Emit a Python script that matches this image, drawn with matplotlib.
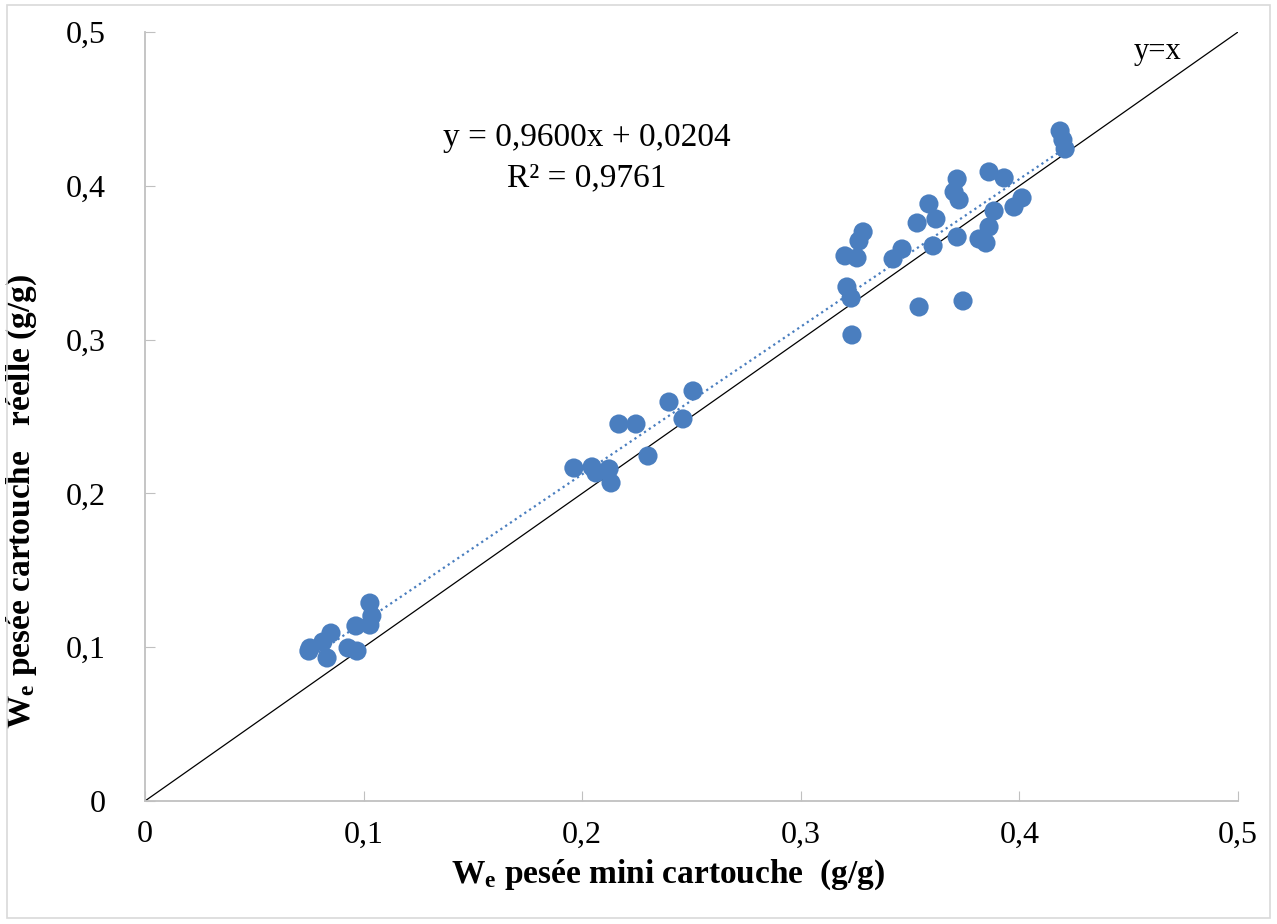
import matplotlib
matplotlib.use("Agg")
import matplotlib.pyplot as plt
import numpy as np
from matplotlib.patches import Rectangle

plt.rcParams['font.family'] = ['Liberation Serif', 'DejaVu Serif']
plt.rcParams['mathtext.fontset'] = 'custom'
plt.rcParams['mathtext.rm'] = 'Liberation Serif'
plt.rcParams['mathtext.bf'] = 'Liberation Serif:bold'

# W_e mini cartouche (x) vs W_e cartouche reelle (y)
mini = [0.1029, 0.1038, 0.1029, 0.0965, 0.0851, 0.0814, 0.0755, 0.0750, 0.0833, 0.0929, 0.0970,
        0.2507, 0.2397, 0.2168, 0.2246, 0.2461, 0.2301, 0.1962, 0.2045, 0.2063, 0.2123, 0.2132,
        0.3285, 0.3266, 0.3202, 0.3257, 0.3422, 0.3463, 0.3532, 0.3586, 0.3618, 0.3605,
        0.3715, 0.3701, 0.3724, 0.3861, 0.3930, 0.4012, 0.3975, 0.3884, 0.3861, 0.3715,
        0.3815, 0.3847, 0.3211, 0.3230, 0.3541, 0.3742, 0.3234, 0.4186, 0.4199, 0.4209]
reelle = [0.1287, 0.1203, 0.1144, 0.1138, 0.1092, 0.1034, 0.0995, 0.0975, 0.0930, 0.0995, 0.0975,
          0.2666, 0.2594, 0.2451, 0.2451, 0.2484, 0.2243, 0.2165, 0.2172, 0.2133, 0.2159, 0.2068,
          0.3700, 0.3641, 0.3544, 0.3531, 0.3524, 0.3589, 0.3758, 0.3882, 0.3784, 0.3609,
          0.4044, 0.3960, 0.3908, 0.4090, 0.4051, 0.3921, 0.3862, 0.3836, 0.3732, 0.3667,
          0.3654, 0.3628, 0.3342, 0.3270, 0.3212, 0.3251, 0.3030, 0.4356, 0.4298, 0.4239]

slope = 0.9600
intercept = 0.0204
eq_text = "y = 0,9600x + 0,0204"
r2_text = "R² = 0,9761"
ticks = [0, 0.1, 0.2, 0.3, 0.4, 0.5]
tick_labels = ["0", "0,1", "0,2", "0,3", "0,4", "0,5"]

fig = plt.figure(figsize=(12.77, 9.24), dpi=100)
ax = fig.add_axes([0.1135, 0.1331, 0.856, 0.8323])

blue = "#4a7ebf"
ax.plot([0, 0.5], [0, 0.5], color="black", lw=0.9, zorder=2)
ax.scatter(mini, reelle, s=190, color=blue, edgecolors="none", zorder=3)

xt = np.array([min(mini), max(mini)])
ax.plot(xt, slope * xt + intercept, color=blue, lw=1.6, ls=(0, (1, 1.6)), zorder=4)

ax.text(0.202, 0.431, eq_text, ha="center", va="center", fontsize=24)
ax.text(0.202, 0.405, r2_text, ha="center", va="center", fontsize=24)
ax.text(0.463, 0.487, "y=x", ha="center", va="center", fontsize=22)

ax.set_xlim(0, 0.5)
ax.set_ylim(0, 0.5)
ax.set_xticks(ticks)
ax.set_xticklabels(tick_labels)
ax.set_yticks(ticks)
ax.set_yticklabels(tick_labels)
ax.tick_params(direction="in", length=7, color="#c0c0c0", labelsize=23)
ax.tick_params(axis="x", pad=14)
ax.tick_params(axis="y", pad=28)

for s in ["top", "right"]:
    ax.spines[s].set_visible(False)
for s in ["left", "bottom"]:
    ax.spines[s].set_color("#c0c0c0")
    ax.spines[s].set_linewidth(1.3)

ax.set_xlabel(r"$\mathbf{W_e}$ pesée mini cartouche  (g/g)", fontsize=24, fontweight="bold")
ax.set_ylabel(r"$\mathbf{W_e}$ pesée cartouche   réelle (g/g)", fontsize=24, fontweight="bold")
ax.xaxis.set_label_coords(0.478, -0.073)
ax.yaxis.set_label_coords(-0.097, 0.39)

fig.patches.append(Rectangle((0.0055, 0.006), 0.989, 0.9885, transform=fig.transFigure,
                             fill=False, edgecolor="#d9d9d9", lw=1.2))

fig.savefig("out.png", dpi=100)
